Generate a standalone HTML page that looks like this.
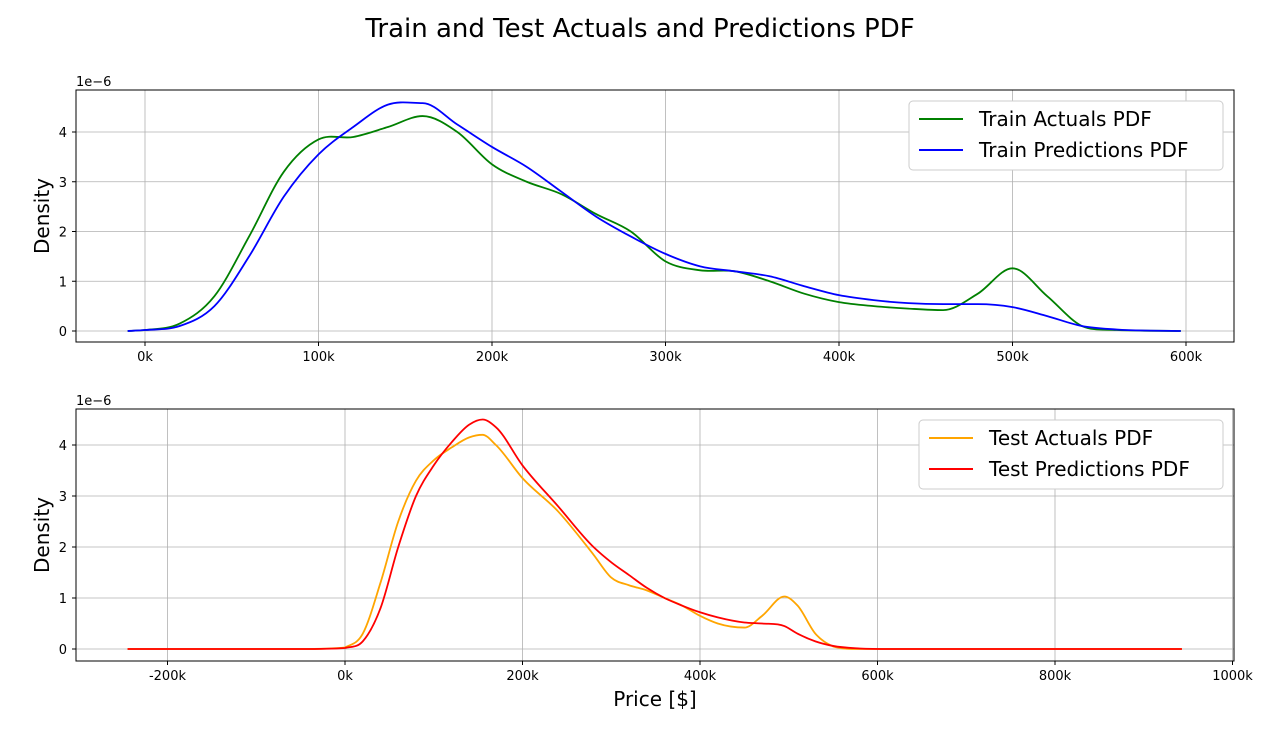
<!DOCTYPE html>
<html><head><meta charset="utf-8"><style>
body{margin:0;background:#fff;}
svg text{font-family:"DejaVu Sans","Liberation Sans",sans-serif;}
</style></head><body>
<svg id="fig" width="1280" height="740" xmlns="http://www.w3.org/2000/svg">
<rect width="1280" height="740" fill="#fff"/>
<text x="640" y="37" font-size="26" text-anchor="middle">Train and Test Actuals and Predictions PDF</text>
</svg>
<script>
const trainX=[-10,0,20,40,60,80,100,120,140,160,180,200,220,240,260,280,300,320,340,360,380,400,420,440,460,480,500,520,540,560,597];
const trainActuals=[0,0.02,0.15,0.7,1.9,3.2,3.85,3.9,4.1,4.32,4.0,3.35,3.0,2.75,2.35,2.0,1.4,1.22,1.2,1.0,0.75,0.58,0.5,0.45,0.42,0.75,1.26,0.7,0.1,0.02,0];
const trainPred=[0,0.02,0.1,0.5,1.5,2.7,3.55,4.1,4.55,4.58,4.15,3.7,3.3,2.8,2.3,1.9,1.55,1.3,1.2,1.1,0.9,0.72,0.62,0.56,0.54,0.54,0.48,0.3,0.1,0.03,0];
const testX=[-245,-150,-50,0,20,40,60,80,100,120,140,155,170,200,240,280,300,320,340,360,380,400,420,450,470,495,510,530,550,580,620,700,800,943];
const testActuals=[0,0,0,0.03,0.3,1.3,2.5,3.3,3.7,3.95,4.15,4.2,4.0,3.35,2.7,1.85,1.4,1.25,1.15,1.0,0.85,0.65,0.5,0.42,0.65,1.03,0.85,0.3,0.05,0,0,0,0,0];
const testPred=[0,0,0,0.02,0.15,0.8,2.0,3.0,3.6,4.05,4.4,4.5,4.35,3.6,2.8,2.0,1.7,1.45,1.2,1.0,0.85,0.72,0.62,0.52,0.5,0.45,0.3,0.15,0.06,0.01,0,0,0,0];
const topXTicks=[0,100,200,300,400,500,600];
const botXTicks=[-200,0,200,400,600,800,1000];
const topYTicks=[0,1,2,3,4];
const botYTicks=[0,1,2,3,4];

const NS="http://www.w3.org/2000/svg";
const svg=document.getElementById('fig');
function mk(t,a,p){const e=document.createElementNS(NS,t);for(const k in a)e.setAttribute(k,a[k]);(p||svg).appendChild(e);return e;}
function path(xs,ys,sx,sy){
 const n=xs.length,m=[];
 for(let i=0;i<n;i++){
  if(i===0)m.push((ys[1]-ys[0])/(xs[1]-xs[0]));
  else if(i===n-1)m.push((ys[n-1]-ys[n-2])/(xs[n-1]-xs[n-2]));
  else{const a=(ys[i]-ys[i-1])/(xs[i]-xs[i-1]),b=(ys[i+1]-ys[i])/(xs[i+1]-xs[i]);
   m.push(a*b<=0?0:(a*(xs[i+1]-xs[i])+b*(xs[i]-xs[i-1]))/(xs[i+1]-xs[i-1]));}
 }
 const c=v=>sy(Math.max(0,v));
 let d=`M${sx(xs[0])},${sy(ys[0])}`;
 for(let i=0;i<n-1;i++){let h=(xs[i+1]-xs[i])/3;
  let m0=m[i],m1=m[i+1];
  if(ys[i]===0||ys[i+1]===0){const lim=Math.abs(ys[i+1]-ys[i])/h;m0=Math.sign(m0)*Math.min(Math.abs(m0),lim);m1=Math.sign(m1)*Math.min(Math.abs(m1),lim);}
  d+=`C${sx(xs[i]+h)},${c(ys[i]+m0*h)} ${sx(xs[i+1]-h)},${c(ys[i+1]-m1*h)} ${sx(xs[i+1])},${sy(ys[i+1])}`;}
 return d;}
function panel(o){
 const g=mk('g',{});
 
 
 const sx=v=>o.x0+(v-o.xa)*o.kx, sy=v=>o.y0-v*o.ky;
 o.xt.forEach(t=>{const l=mk('line',{x1:sx(t),x2:sx(t),y1:o.top,y2:o.bot,stroke:'#b0b0b0','stroke-width':0.8},g);
  
  mk('line',{x1:sx(t),x2:sx(t),y1:o.bot,y2:o.bot+4,stroke:'#000'},g);
  const tx=mk('text',{x:sx(t),y:o.bot+19,'font-size':13,'text-anchor':'middle'},g);tx.textContent=t+'k';
  });
 o.yt.forEach(t=>{const l=mk('line',{x1:76,x2:1234,y1:sy(t),y2:sy(t),stroke:'#b0b0b0','stroke-width':0.8},g);
  
  mk('line',{x1:72,x2:76,y1:sy(t),y2:sy(t),stroke:'#000'},g);
  const tx=mk('text',{x:67,y:sy(t)+5,'font-size':13,'text-anchor':'end'},g);tx.textContent=t;
  });
 o.series.forEach(s=>{const p=mk('path',{d:path(o.xs,s.v,sx,sy),fill:'none',stroke:s.c,'stroke-width':1.8},g);
  });
 mk('rect',{x:76,y:o.top,width:1158,height:o.bot-o.top,fill:'none',stroke:'#000','stroke-width':1},g);
 const m=mk('text',{x:76,y:o.top-4,'font-size':13},g);m.textContent='1e\u22126';
 
 const yl=mk('text',{x:0,y:0,'font-size':20,'text-anchor':'middle',transform:`translate(49,${(o.top+o.bot)/2}) rotate(-90)`},g);yl.textContent='Density';
 
 const lg=mk('g',{},g);
 mk('rect',{x:o.lx,y:o.top+11,width:1223-o.lx,height:69,rx:4,fill:'#fff',stroke:'#ccc'},lg);
 o.series.forEach((s,i)=>{const y=o.top+29+i*31;mk('line',{x1:o.lx+10,x2:o.lx+54,y1:y,y2:y,stroke:s.c,'stroke-width':2},lg);
  const t=mk('text',{x:o.lx+70,y:y+7,'font-size':20},lg);t.textContent=s.label;
  });
}
panel({name:'train-panel',top:90,bot:342,x0:145,xa:0,kx:1.735,y0:331,ky:49.75,xt:topXTicks,yt:topYTicks,xs:trainX,lx:909,
 series:[{v:trainActuals,c:'green',n:'train-actuals-line',label:'Train Actuals PDF'},{v:trainPred,c:'blue',n:'train-predictions-line',label:'Train Predictions PDF'}]});
panel({name:'test-panel',top:409,bot:661,x0:345,xa:0,kx:0.8875,y0:649,ky:51,xt:botXTicks,yt:botYTicks,xs:testX,lx:919,
 series:[{v:testActuals,c:'orange',n:'test-actuals-line',label:'Test Actuals PDF'},{v:testPred,c:'red',n:'test-predictions-line',label:'Test Predictions PDF'}]});
const xl=mk('text',{x:655,y:706,'font-size':20,'text-anchor':'middle'});xl.textContent='Price [$]';


</script>
</body></html>
